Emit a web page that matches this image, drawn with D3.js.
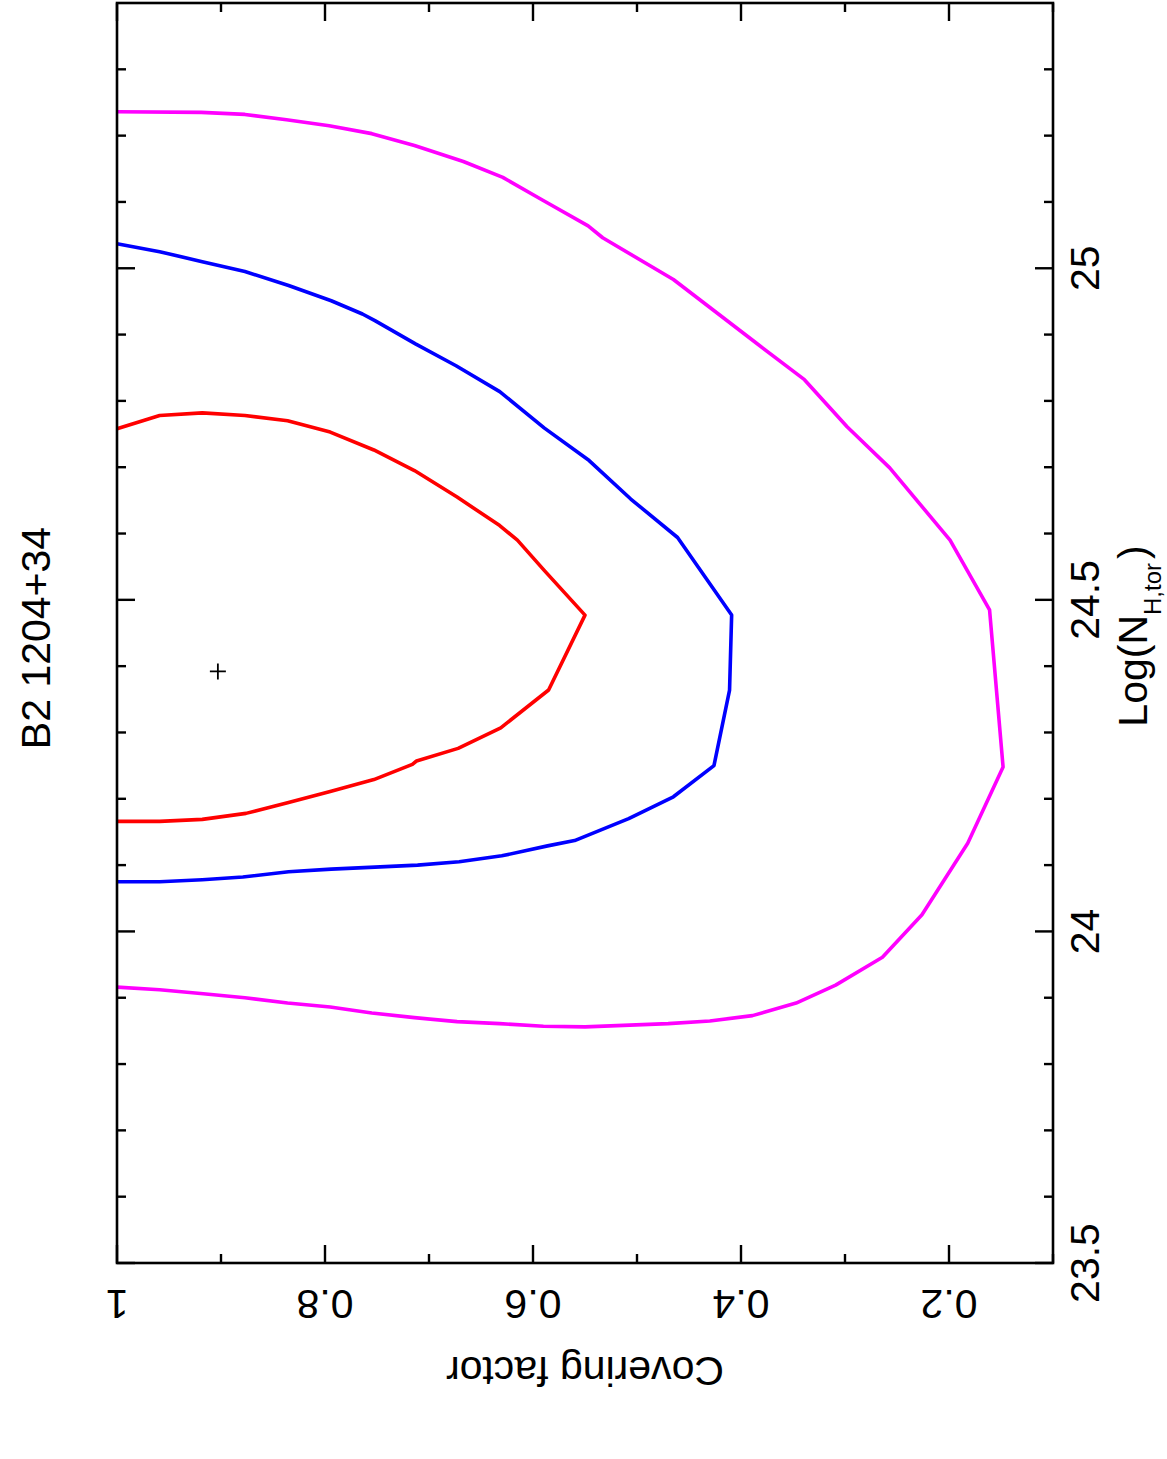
<!DOCTYPE html>
<html>
<head>
<meta charset="utf-8">
<script src="https://cdn.jsdelivr.net/npm/d3@7/dist/d3.min.js"></script>
<style>
  html, body { margin: 0; padding: 0; background: #fff; }
  svg { display: block; font-family: "Liberation Sans", Arial, Helvetica, sans-serif; }
</style>
</head>
<body>
<svg id="chart" width="1167" height="1459"></svg>
<script>
// Confidence contours of covering factor vs. torus column density,
// drawn the way the original page shows it: turned a quarter turn.

const title = "B2 1204+34";

// Contour vertices: covering factor (CF) and Log(N_H,tor) (NH).
const redCF = [1.0, 0.959, 0.918, 0.877, 0.836, 0.795, 0.753, 0.714, 0.673, 0.632, 0.615, 0.589, 0.550,
               0.585, 0.631, 0.672, 0.712, 0.716, 0.753, 0.795, 0.836, 0.876, 0.918, 0.959, 1.0];
const redNH = [24.758, 24.778, 24.782, 24.778, 24.770, 24.753, 24.726, 24.695, 24.655, 24.612, 24.590, 24.544, 24.477,
               24.364, 24.307, 24.276, 24.257, 24.252, 24.229, 24.211, 24.194, 24.178, 24.169, 24.166, 24.166];

const blueCF = [1.0, 0.959, 0.918, 0.877, 0.835, 0.794, 0.764, 0.752, 0.713, 0.674, 0.632, 0.589, 0.546, 0.506, 0.461, 0.409,
                0.411, 0.426, 0.465, 0.508, 0.560, 0.586, 0.630, 0.671, 0.711, 0.752, 0.794, 0.835, 0.879, 0.918, 0.959, 1.0];
const blueNH = [25.037, 25.025, 25.010, 24.995, 24.974, 24.951, 24.931, 24.921, 24.886, 24.853, 24.814, 24.759, 24.710, 24.652, 24.594, 24.477,
                24.364, 24.250, 24.203, 24.170, 24.137, 24.129, 24.114, 24.105, 24.100, 24.097, 24.094, 24.090, 24.082, 24.078, 24.075, 24.075];

const magentaCF = [1.0, 0.919, 0.877, 0.837, 0.796, 0.755, 0.714, 0.667, 0.629, 0.591, 0.547, 0.533, 0.465, 0.386, 0.339, 0.298, 0.257, 0.199, 0.161,
                   0.148, 0.182, 0.226, 0.264, 0.309, 0.347, 0.389, 0.430, 0.470, 0.550, 0.590, 0.632, 0.673, 0.714, 0.755, 0.795, 0.836, 0.877, 0.917, 0.959, 1.0];
const magentaNH = [25.236, 25.235, 25.232, 25.224, 25.215, 25.203, 25.185, 25.161, 25.137, 25.103, 25.064, 25.046, 24.983, 24.888, 24.832, 24.761, 24.699, 24.590, 24.485,
                   24.248, 24.133, 24.025, 23.961, 23.919, 23.892, 23.873, 23.865, 23.861, 23.856, 23.857, 23.861, 23.864, 23.870, 23.877, 23.886, 23.892, 23.900, 23.906, 23.912, 23.916];

// Best fit.
const bestCF = 0.903;
const bestNH = 24.392;

// Ticks.
const cfMajor = [1, 0.8, 0.6, 0.4, 0.2];
const cfLabels = ["1", "0.8", "0.6", "0.4", "0.2"];
const cfMinor = [0.9, 0.7, 0.5, 0.3, 0.1];
const nhMajor = [23.5, 24, 24.5, 25];
const nhLabels = ["23.5", "24", "24.5", "25"];
const nhMinor = [23.6, 23.7, 23.8, 23.9, 24.1, 24.2, 24.3, 24.4, 24.6, 24.7, 24.8, 24.9, 25.1, 25.2, 25.3];

const svg = d3.select("#chart");
const L = 117, R = 1053, T = 3, B = 1263;

// Covering factor runs right-to-left along the screen, N_H bottom-to-top.
const x = d3.scaleLinear().domain([1, 0.1]).range([L, R]);
const y = d3.scaleLinear().domain([23.5, 25.4]).range([B, T]);

const line = d3.line().x((d) => x(d[0])).y((d) => y(d[1]));

const contours = [
  { cf: magentaCF, nh: magentaNH, colour: "#ff00ff" },
  { cf: blueCF, nh: blueNH, colour: "#0000ff" },
  { cf: redCF, nh: redNH, colour: "#ff0000" },
];

svg.append("g")
  .selectAll("path")
  .data(contours)
  .join("path")
  .attr("d", (d) => line(d3.zip(d.cf, d.nh)))
  .attr("fill", "none")
  .attr("stroke", (d) => d.colour)
  .attr("stroke-width", 3.6)
  .attr("stroke-linejoin", "round");

// Best-fit cross.
const px = x(bestCF), py = y(bestNH);
svg.append("path")
  .attr("d", `M${px - 8},${py}H${px + 8}M${px},${py - 8}V${py + 8}`)
  .attr("stroke", "#000")
  .attr("stroke-width", 1.8);

// Frame.
svg.append("rect")
  .attr("x", L).attr("y", T)
  .attr("width", R - L).attr("height", B - T)
  .attr("fill", "none")
  .attr("stroke", "#000")
  .attr("stroke-width", 2.6);

const ticks = svg.append("g").attr("stroke", "#000").attr("stroke-width", 2.4);
const MAJ = 18, MIN = 9;

// Covering-factor ticks on top and bottom edges.
[[cfMajor, MAJ], [cfMinor, MIN]].forEach(([vals, len]) => {
  ticks.selectAll(null).data(vals).join("line")
    .attr("x1", (d) => x(d)).attr("x2", (d) => x(d))
    .attr("y1", B).attr("y2", B - len);
  ticks.selectAll(null).data(vals).join("line")
    .attr("x1", (d) => x(d)).attr("x2", (d) => x(d))
    .attr("y1", T).attr("y2", T + len);
});

// N_H ticks on left and right edges.
[[nhMajor, MAJ], [nhMinor, MIN]].forEach(([vals, len]) => {
  ticks.selectAll(null).data(vals).join("line")
    .attr("y1", (d) => y(d)).attr("y2", (d) => y(d))
    .attr("x1", L).attr("x2", L + len);
  ticks.selectAll(null).data(vals).join("line")
    .attr("y1", (d) => y(d)).attr("y2", (d) => y(d))
    .attr("x1", R).attr("x2", R - len);
});

const FS = 41;

// Covering-factor labels, upside down.
svg.append("g").selectAll("text")
  .data(cfMajor)
  .join("text")
  .attr("transform", (d) => `translate(${x(d)},1290) rotate(180)`)
  .attr("text-anchor", "middle")
  .attr("font-size", FS)
  .text((d, i) => cfLabels[i]);

// N_H labels, reading bottom to top.
svg.append("g").selectAll("text")
  .data(nhMajor)
  .join("text")
  .attr("transform", (d) => `translate(1099,${y(d)}) rotate(-90)`)
  .attr("text-anchor", "middle")
  .attr("font-size", FS)
  .text((d, i) => nhLabels[i]);

svg.append("text")
  .attr("transform", `translate(${(L + R) / 2},1357) rotate(180)`)
  .attr("text-anchor", "middle")
  .attr("font-size", FS)
  .text("Covering factor");

const nhLabel = svg.append("text")
  .attr("transform", `translate(1147,${(T + B) / 2 + 3}) rotate(-90)`)
  .attr("text-anchor", "middle")
  .attr("font-size", FS);
nhLabel.append("tspan").text("Log(N");
nhLabel.append("tspan").attr("font-size", 24).attr("dy", 14).text("H,tor");
nhLabel.append("tspan").attr("dy", -14).attr("dx", 4).text(")");

svg.append("text")
  .attr("transform", `translate(50,${(T + B) / 2 + 5}) rotate(-90)`)
  .attr("text-anchor", "middle")
  .attr("font-size", FS)
  .text(title);
</script>
</body>
</html>
